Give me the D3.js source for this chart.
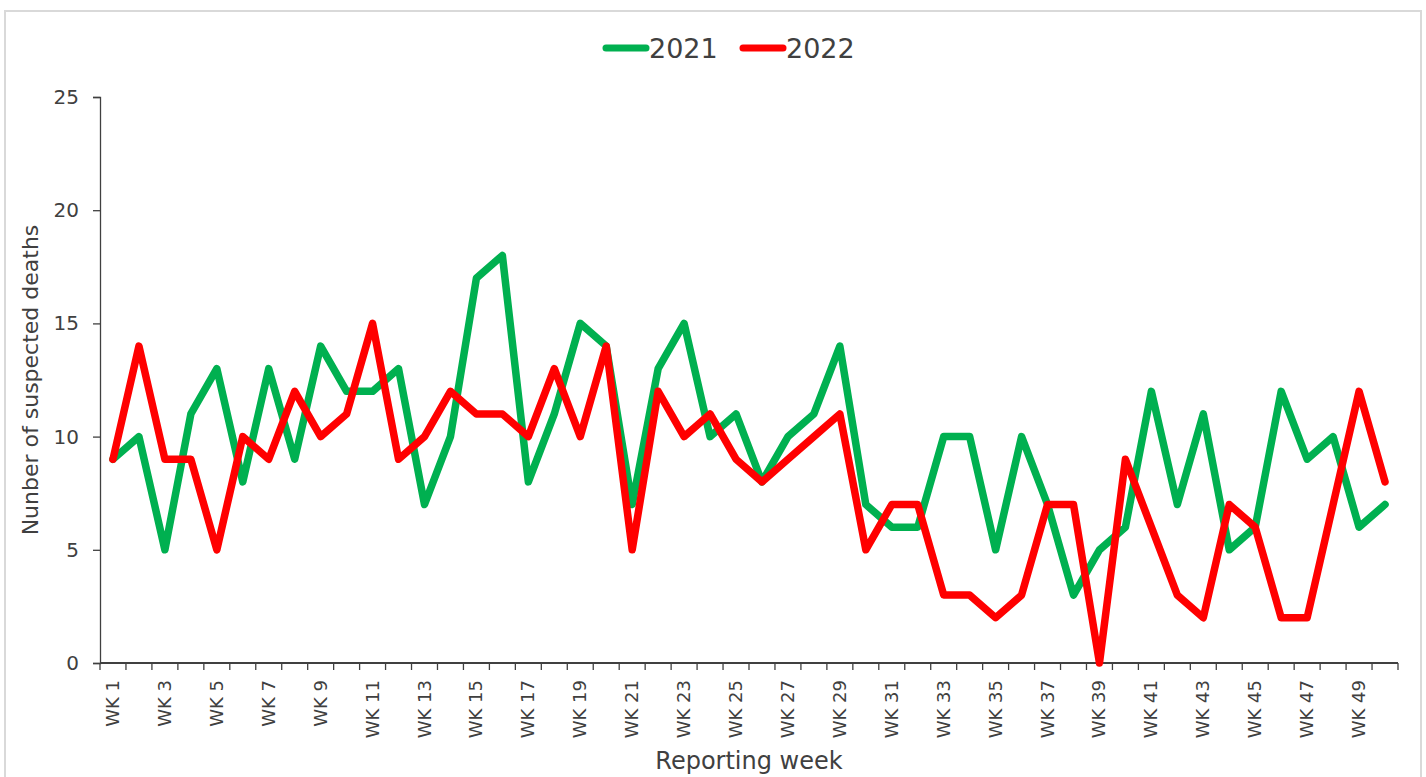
<!DOCTYPE html>
<html>
<head>
<meta charset="utf-8">
<script src="https://cdn.jsdelivr.net/npm/d3@7"></script>
<style>
  body { margin: 0; background: #fff; }
  text { font-family: "DejaVu Sans", Verdana, sans-serif; fill: #404040; }
</style>
</head>
<body>
<div id="chart"></div>
<script>
// reporting weeks WK 1 .. WK 50
var weeks = ["WK 1","WK 2","WK 3","WK 4","WK 5","WK 6","WK 7","WK 8","WK 9","WK 10",
  "WK 11","WK 12","WK 13","WK 14","WK 15","WK 16","WK 17","WK 18","WK 19","WK 20",
  "WK 21","WK 22","WK 23","WK 24","WK 25","WK 26","WK 27","WK 28","WK 29","WK 30",
  "WK 31","WK 32","WK 33","WK 34","WK 35","WK 36","WK 37","WK 38","WK 39","WK 40",
  "WK 41","WK 42","WK 43","WK 44","WK 45","WK 46","WK 47","WK 48","WK 49","WK 50"];

var deaths2021 = [9,10,5,11,13,8,13,9,14,12,
  12,13,7,10,17,18,8,11,15,14,
  7,13,15,10,11,8,10,11,14,7,
  6,6,10,10,5,10,7,3,5,6,
  12,7,11,5,6,12,9,10,6,7];

var deaths2022 = [9,14,9,9,5,10,9,12,10,11,
  15,9,10,12,11,11,10,13,10,14,
  5,12,10,11,9,8,9,10,11,5,
  7,7,3,3,2,3,7,7,0,9,
  6,3,2,7,6,2,2,7,12,8];

var seriesNames = ["2021", "2022"];
var seriesColors = ["#00b050", "#ff0000"];
var yTicks = [0, 5, 10, 15, 20, 25];

var width = 1426, height = 777;
var margin = { top: 97, right: 28, bottom: 114, left: 100 };

var svg = d3.select("#chart").append("svg")
  .attr("width", width)
  .attr("height", height);

// outer chart border
svg.append("rect")
  .attr("x", 5).attr("y", 11)
  .attr("width", 1416).attr("height", 800)
  .attr("fill", "none")
  .attr("stroke", "#d9d9d9")
  .attr("stroke-width", 2);

var x = d3.scaleBand()
  .domain(weeks)
  .range([margin.left, width - margin.right])
  .paddingInner(0).paddingOuter(0);

var y = d3.scaleLinear()
  .domain([0, 25])
  .range([height - margin.bottom, margin.top]);

var y0 = height - margin.bottom;

// y axis
var yAxis = svg.append("g")
  .attr("transform", "translate(" + margin.left + ",0)")
  .call(d3.axisLeft(y).tickValues(yTicks).tickSize(7).tickPadding(14));
yAxis.select(".domain").attr("stroke", "#404040").attr("stroke-width", 1.3);
yAxis.selectAll(".tick line").attr("stroke", "#404040").attr("stroke-width", 1.3);
yAxis.selectAll(".tick text")
  .style("font-size", "20px")
  .style("font-family", "DejaVu Sans, sans-serif")
  .attr("fill", "#404040");

// x axis: ticks at category boundaries, labels every other week
var xAxisG = svg.append("g").attr("class", "x-axis");
xAxisG.append("line")
  .attr("x1", x.range()[0]).attr("x2", x.range()[1])
  .attr("y1", y0).attr("y2", y0)
  .attr("stroke", "#404040").attr("stroke-width", 2);

var boundaries = weeks.map(function (d) { return x(d); }).concat([x.range()[1]]);
xAxisG.selectAll("line.tick")
  .data(boundaries)
  .enter().append("line")
  .attr("class", "tick")
  .attr("x1", function (d) { return d; })
  .attr("x2", function (d) { return d; })
  .attr("y1", y0).attr("y2", y0 + 7)
  .attr("stroke", "#404040").attr("stroke-width", 1.3);

xAxisG.selectAll("text.wk")
  .data(weeks.filter(function (d, i) { return i % 2 === 0; }))
  .enter().append("text")
  .attr("class", "wk")
  .attr("transform", function (d) {
    return "translate(" + (x(d) + x.bandwidth() / 2 + 6) + "," + (y0 + 17) + ") rotate(-90)";
  })
  .attr("text-anchor", "end")
  .style("font-size", "18px")
  .text(function (d) { return d; });

// axis titles
svg.append("text")
  .attr("x", 749)
  .attr("y", 769)
  .attr("text-anchor", "middle")
  .style("font-size", "24px")
  .text("Reporting week");

svg.append("text")
  .attr("transform", "translate(38," + ((margin.top + y0) / 2) + ") rotate(-90)")
  .attr("text-anchor", "middle")
  .style("font-size", "22px")
  .text("Nunber of suspected deaths");

// lines
var line = d3.line()
  .x(function (d, i) { return x(weeks[i]) + x.bandwidth() / 2; })
  .y(function (d) { return y(d); });

[deaths2021, deaths2022].forEach(function (series, k) {
  svg.append("path")
    .datum(series)
    .attr("d", line)
    .attr("fill", "none")
    .attr("stroke", seriesColors[k])
    .attr("stroke-width", 7.5)
    .attr("stroke-linejoin", "round")
    .attr("stroke-linecap", "round");
});

// legend
var legend = svg.append("g").attr("transform", "translate(606,48)");
var legendX = [0, 137];
seriesNames.forEach(function (name, k) {
  var g = legend.append("g").attr("transform", "translate(" + legendX[k] + ",0)");
  g.append("line")
    .attr("x1", 0).attr("x2", 40)
    .attr("y1", 0).attr("y2", 0)
    .attr("stroke", seriesColors[k])
    .attr("stroke-width", 7)
    .attr("stroke-linecap", "round");
  g.append("text")
    .attr("x", 43).attr("y", 10)
    .style("font-size", "27px")
    .text(name);
});
</script>
</body>
</html>
